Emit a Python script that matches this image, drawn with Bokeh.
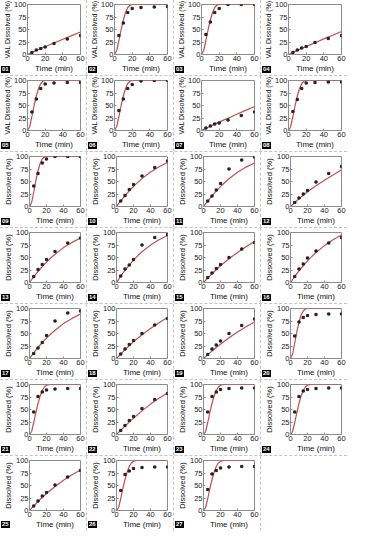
from bokeh.plotting import figure
from bokeh.layouts import row, column
from bokeh.models import Range1d, FixedTicker, Div, Spacer
from bokeh.embed import file_html
from bokeh.resources import INLINE

# sampling times of observed data (min)
T = [5, 10, 15, 20, 30, 45, 60]
# times at which the fitted curves are read
CT = [0, 2.5, 5, 7.5, 10, 12.5, 15, 17.5, 20, 22.5, 25, 30, 40, 50, 60]
XTICKS = [0, 20, 40, 60]
YTICKS = [0, 25, 50, 75, 100]

labels = ["%02d" % i for i in range(1, 28)]
ylabels = ["VAL Dissolved (%)"] * 8 + ["Dissolved (%)"] * 19

# observed % dissolved per panel
p01 = [4, 9, 12, 15, 22, 31, 38]
p02 = [38, 63, 84, 92, 94, 95, 96]
p03 = [40, 65, 84, 92, 100, 100, 100]
p04 = [4, 9, 13, 16, 24, 32, 38]
p05 = [37, 63, 84, 93, 95, 96, 96]
p06 = [40, 63, 84, 92, 99, 100, 100]
p07 = [5, 9, 13, 15, 21, 30, 37]
p08 = [38, 62, 84, 95, 96, 97, 97]
p09 = [41, 66, 87, 95, 100, 100, 100]
p10 = [11, 22, 34, 44, 61, 78, 91]
p11 = [11, 21, 33, 46, 75, 93, 99]
p12 = [8, 17, 25, 32, 49, 66, 80]
p13 = [12, 26, 36, 46, 62, 79, 89]
p14 = [13, 27, 35, 46, 75, 90, 96]
p15 = [10, 19, 28, 36, 50, 67, 80]
p16 = [12, 27, 37, 49, 63, 79, 90]
p17 = [10, 21, 32, 46, 75, 91, 95]
p18 = [9, 19, 28, 36, 50, 67, 80]
p19 = [8, 19, 27, 35, 50, 66, 79]
p20 = [45, 73, 82, 86, 88, 89, 89]
p21 = [45, 76, 85, 89, 91, 92, 92]
p22 = [8, 18, 28, 36, 52, 70, 82]
p23 = [45, 76, 85, 90, 92, 93, 93]
p24 = [45, 76, 87, 90, 92, 93, 93]
p25 = [9, 19, 29, 36, 51, 67, 80]
p26 = [40, 72, 79, 84, 86, 87, 87]
p27 = [42, 73, 80, 85, 87, 88, 88]

# fitted curves, read at CT
f01 = [0, 2, 4, 6, 8, 9.9, 11.8, 13.7, 15.6, 17.5, 19.4, 23.1, 30.5, 37.8, 45]
f02 = [0, 8, 28, 50, 69, 84, 94, 98.5, 100, 100, 100, 100, 100, 100, 100]
f03 = [0, 8, 28, 50, 69, 84, 94, 98.5, 100, 100, 100, 100, 100, 100, 100]
f04 = [0, 2.1, 4.2, 6.2, 8.2, 10.2, 12.2, 14.1, 16, 17.9, 19.8, 23.6, 31.2, 38.6, 46]
f05 = [0, 8, 28, 50, 69, 84, 94, 98.5, 100, 100, 100, 100, 100, 100, 100]
f06 = [0, 8, 28, 50, 69, 84, 94, 98.5, 100, 100, 100, 100, 100, 100, 100]
f07 = [0, 2.2, 4.4, 6.5, 8.6, 10.7, 12.7, 14.7, 16.7, 18.7, 20.7, 24.6, 32.5, 40.3, 48]
f08 = [0, 8, 28, 50, 69, 84, 94, 98.5, 100, 100, 100, 100, 100, 100, 100]
f09 = [0, 8, 29, 52, 71, 86, 95, 99, 100, 100, 100, 100, 100, 100, 100]
f10 = [0, 5.6, 11.1, 16.4, 21.5, 26.4, 31.1, 35.6, 40, 44.2, 48.2, 55.8, 69, 79.5, 88]
f11 = [0, 5.5, 10.9, 16.1, 21.2, 26.1, 30.8, 35.3, 39.7, 43.9, 47.9, 55.4, 68.5, 78.8, 87]
f12 = [0, 4, 7.9, 11.7, 15.4, 19, 22.5, 25.9, 29.2, 32.4, 35.5, 41.5, 52.5, 63, 73.5]
f13 = [0, 5.8, 11.4, 16.8, 22, 27, 31.8, 36.4, 40.8, 45, 49, 56.6, 69.8, 80.2, 89]
f14 = [0, 6.4, 12.6, 18.6, 24.3, 29.7, 34.9, 39.9, 44.6, 49.1, 53.4, 61.4, 74.8, 85.5, 94]
f15 = [0, 4.5, 8.9, 13.2, 17.4, 21.5, 25.5, 29.4, 33.2, 36.9, 40.5, 47.4, 60.2, 71.6, 82]
f16 = [0, 6, 11.9, 17.6, 23.1, 28.4, 33.5, 38.4, 43.1, 47.6, 51.9, 60, 73.8, 85.3, 95]
f17 = [0, 5.8, 11.4, 16.8, 22, 27, 31.8, 36.4, 40.8, 45, 49, 56.6, 69.8, 80.2, 89]
f18 = [0, 4.5, 8.9, 13.2, 17.4, 21.5, 25.5, 29.4, 33.2, 36.9, 40.5, 47.4, 60.2, 71.6, 82]
f19 = [0, 3.8, 7.6, 11.3, 14.9, 18.4, 21.9, 25.3, 28.6, 31.9, 35.1, 41.3, 52.8, 63.3, 73]
f20 = [0, 9, 31, 54, 73, 87, 95, 99, 100, 100, 100, 100, 100, 100, 100]
f21 = [0, 6, 24, 44, 62, 77, 88, 95, 98.5, 99.7, 100, 100, 100, 100, 100]
f22 = [0, 4.3, 8.5, 12.7, 16.8, 20.8, 24.8, 28.7, 32.5, 36.3, 40, 47.2, 60.8, 72.4, 83]
f23 = [0, 6, 24, 44, 62, 77, 88, 95, 98.5, 99.7, 100, 100, 100, 100, 100]
f24 = [0, 6, 24, 44, 62, 77, 88, 95, 98.5, 99.7, 100, 100, 100, 100, 100]
f25 = [0, 4.6, 9.1, 13.5, 17.8, 22, 26.1, 30, 33.8, 37.5, 41.1, 47.9, 60.3, 71.3, 81]
f26 = [0, 6, 24, 44, 62, 77, 88, 95, 98.5, 99.7, 100, 100, 100, 100, 100]
f27 = [0, 6, 24, 44, 62, 77, 88, 95, 98.5, 99.7, 100, 100, 100, 100, 100]

PTS = [p01, p02, p03, p04, p05, p06, p07, p08, p09, p10, p11, p12, p13, p14,
       p15, p16, p17, p18, p19, p20, p21, p22, p23, p24, p25, p26, p27]
FITS = [f01, f02, f03, f04, f05, f06, f07, f08, f09, f10, f11, f12, f13, f14,
        f15, f16, f17, f18, f19, f20, f21, f22, f23, f24, f25, f26, f27]

FONT = "Liberation Sans"
W, H = 86, 75
SEP = "1px dashed #c4c4c4"


def make_panel(pts, fit, ylab):
    p = figure(width=W, height=H, x_range=Range1d(0, 60), y_range=Range1d(0, 100),
               output_backend="svg", toolbar_location=None,
               min_border_left=25, min_border_right=6, min_border_top=4,
               min_border_bottom=19)
    p.grid.visible = False
    p.outline_line_color = "#8c8c8c"
    p.outline_line_width = 1
    p.xaxis.ticker = FixedTicker(ticks=XTICKS)
    p.yaxis.ticker = FixedTicker(ticks=YTICKS)
    for ax in (p.xaxis[0], p.yaxis[0]):
        ax.axis_line_color = None
        ax.major_tick_line_color = "#8c8c8c"
        ax.major_tick_in = 2
        ax.major_tick_out = 0
        ax.minor_tick_line_color = None
        ax.major_label_text_font = FONT
        ax.major_label_text_font_size = "7.5px"
        ax.major_label_text_color = "#222222"
        ax.major_label_standoff = 1
        ax.axis_label_text_font = FONT
        ax.axis_label_text_font_style = "normal"
        ax.axis_label_text_color = "#111111"
        ax.axis_label_standoff = 0
    p.xaxis.axis_label = "Time (min)"
    p.xaxis.axis_label_text_font_size = "8px"
    p.yaxis.axis_label = ylab
    p.yaxis.axis_label_text_font_size = "7px" if ylab.startswith("VAL") else "7.5px"
    p.line(CT, fit, line_color="#c0504d", line_width=1.2)
    p.scatter(T, pts, size=2.2, marker="square", fill_color="#222222", line_color="#222222")
    return p


def number_strip(nums, border):
    spans = ""
    for c, n in enumerate(nums):
        spans += ('<span style="position:absolute;left:%dpx;top:-21px;z-index:10;background:#000;'
                  'color:#fff;font-family:\'Liberation Sans\',sans-serif;font-weight:bold;'
                  'font-size:6px;line-height:7px;padding:0 1px;white-space:nowrap">%s</span>'
                  % (c * (W + 1) + 1, n))
    html = '<div style="position:relative;width:%dpx;height:1px;">%s</div>' % (4 * W + 3, spans)
    styles = {"overflow": "visible", "z-index": "10"}
    if border:
        styles["border-top"] = SEP
    return Div(text=html, width=4 * W + 3, height=1, margin=0, styles=styles)


figs = [make_panel(PTS[i], FITS[i], ylabels[i]) for i in range(27)]

rows = []
for r in range(7):
    items = []
    for c in range(4):
        idx = r * 4 + c
        if idx < 27:
            items.append(figs[idx])
        else:
            items.append(Spacer(width=W, height=H, margin=0))
        if c < 3:
            items.append(Div(width=1, height=H, margin=0, styles={"border-left": SEP}))
    rows.append(row(*items, spacing=0))
    rows.append(number_strip(labels[r * 4:r * 4 + 4], border=(r < 6)))

layout = column(*rows, spacing=0)

open("out.html", "w").write(file_html(layout, INLINE))
